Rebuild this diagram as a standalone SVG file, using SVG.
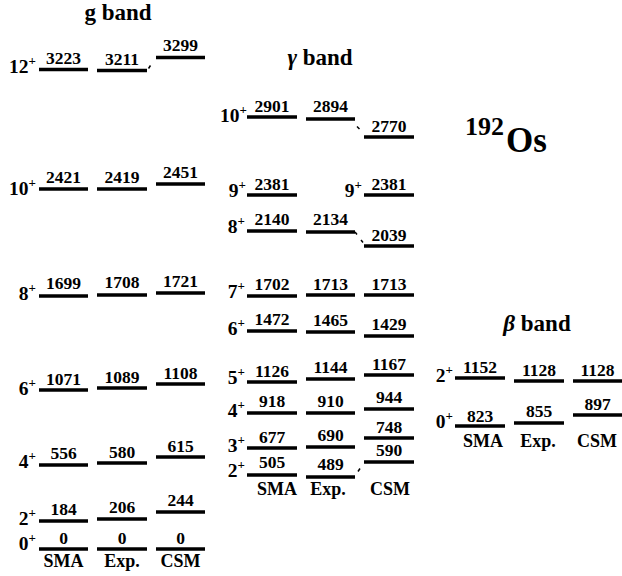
<svg xmlns="http://www.w3.org/2000/svg" width="622" height="576" viewBox="0 0 622 576">
<style>
text{font-family:"Liberation Serif","Times New Roman",serif;font-weight:bold;fill:#000}
.lv{stroke:#000;stroke-width:3.5;fill:none}
.num{font-size:17.5px;text-anchor:middle}
.spin{font-size:19.5px;text-anchor:end}
.sup{font-size:13px}
.hdr{font-size:23px;text-anchor:middle}
.col{font-size:18px;text-anchor:middle}
.tick{stroke:#000;stroke-width:1.5}
</style>
<rect width="622" height="576" fill="#fff"/>
<g id="titles">
<text class="hdr" x="118" y="20">g band</text>
<text class="hdr" x="320" y="65"><tspan font-style="italic">γ</tspan> band</text>
<text class="hdr" x="537" y="331"><tspan font-style="italic">β</tspan> band</text>
<text x="465" y="135" font-size="26">192</text>
<text x="506" y="152" font-size="35">Os</text>
</g>
<!-- g band -->
<g id="g12"><text class="spin" x="36" y="73">12<tspan class="sup" dy="-8">+</tspan></text>
<line class="lv" x1="39" y1="69.5" x2="88" y2="69.5"/><text class="num" x="63.5" y="64">3223</text>
<line class="lv" x1="97" y1="70.5" x2="147" y2="70.5"/><text class="num" x="122" y="65">3211</text>
<line class="lv" x1="156" y1="57.5" x2="205" y2="57.5"/><text class="num" x="180.5" y="51">3299</text></g>
<g id="g10"><text class="spin" x="36" y="195">10<tspan class="sup" dy="-8">+</tspan></text>
<line class="lv" x1="39" y1="189" x2="88" y2="189"/><text class="num" x="63.5" y="183">2421</text>
<line class="lv" x1="97" y1="189" x2="147" y2="189"/><text class="num" x="122" y="183">2419</text>
<line class="lv" x1="156" y1="184" x2="205" y2="184"/><text class="num" x="180.5" y="178">2451</text></g>
<g id="g8"><text class="spin" x="36" y="300">8<tspan class="sup" dy="-8">+</tspan></text>
<line class="lv" x1="39" y1="296" x2="88" y2="296"/><text class="num" x="63.5" y="289">1699</text>
<line class="lv" x1="97" y1="295" x2="147" y2="295"/><text class="num" x="122" y="288">1708</text>
<line class="lv" x1="156" y1="293" x2="205" y2="293"/><text class="num" x="180.5" y="287">1721</text></g>
<g id="g6"><text class="spin" x="36" y="395">6<tspan class="sup" dy="-8">+</tspan></text>
<line class="lv" x1="39" y1="390" x2="88" y2="390"/><text class="num" x="63.5" y="385">1071</text>
<line class="lv" x1="97" y1="388" x2="147" y2="388"/><text class="num" x="122" y="383">1089</text>
<line class="lv" x1="156" y1="384" x2="205" y2="384"/><text class="num" x="180.5" y="379">1108</text></g>
<g id="g4"><text class="spin" x="36" y="468">4<tspan class="sup" dy="-8">+</tspan></text>
<line class="lv" x1="39" y1="465" x2="88" y2="465"/><text class="num" x="63.5" y="459">556</text>
<line class="lv" x1="97" y1="463" x2="147" y2="463"/><text class="num" x="122" y="458">580</text>
<line class="lv" x1="156" y1="457" x2="205" y2="457"/><text class="num" x="180.5" y="452">615</text></g>
<g id="g2"><text class="spin" x="36" y="525">2<tspan class="sup" dy="-8">+</tspan></text>
<line class="lv" x1="39" y1="521" x2="88" y2="521"/><text class="num" x="63.5" y="515">184</text>
<line class="lv" x1="97" y1="519" x2="147" y2="519"/><text class="num" x="122" y="513">206</text>
<line class="lv" x1="156" y1="512" x2="205" y2="512"/><text class="num" x="180.5" y="506">244</text></g>
<g id="g0"><text class="spin" x="36" y="550">0<tspan class="sup" dy="-8">+</tspan></text>
<line class="lv" x1="39" y1="549" x2="88" y2="549"/><text class="num" x="63.5" y="544">0</text>
<line class="lv" x1="97" y1="549" x2="147" y2="549"/><text class="num" x="122" y="544">0</text>
<line class="lv" x1="156" y1="549" x2="205" y2="549"/><text class="num" x="180.5" y="544">0</text></g>
<g id="gcols"><text class="col" x="63.5" y="567">SMA</text><text class="col" x="122" y="567">Exp.</text><text class="col" x="180.5" y="567">CSM</text></g>
<!-- gamma band -->
<g id="y10"><text class="spin" x="247" y="122">10<tspan class="sup" dy="-8">+</tspan></text>
<line class="lv" x1="247" y1="117" x2="297" y2="117"/><text class="num" x="272" y="112">2901</text>
<line class="lv" x1="306" y1="119" x2="355" y2="119"/><text class="num" x="330.5" y="112">2894</text>
<line class="lv" x1="364" y1="137" x2="414" y2="137"/><text class="num" x="389" y="132">2770</text></g>
<g id="y9"><text class="spin" x="246" y="197">9<tspan class="sup" dy="-8">+</tspan></text>
<line class="lv" x1="247" y1="195" x2="297" y2="195"/><text class="num" x="272" y="190">2381</text>
<text class="spin" x="362" y="197">9<tspan class="sup" dy="-8">+</tspan></text>
<line class="lv" x1="364" y1="195" x2="414" y2="195"/><text class="num" x="389" y="190">2381</text></g>
<g id="y8"><text class="spin" x="245" y="233">8<tspan class="sup" dy="-8">+</tspan></text>
<line class="lv" x1="247" y1="231" x2="297" y2="231"/><text class="num" x="272" y="225">2140</text>
<line class="lv" x1="306" y1="232" x2="355" y2="232"/><text class="num" x="330.5" y="225">2134</text>
<line class="lv" x1="364" y1="246" x2="414" y2="246"/><text class="num" x="389" y="241">2039</text></g>
<g id="y7"><text class="spin" x="245" y="298">7<tspan class="sup" dy="-8">+</tspan></text>
<line class="lv" x1="247" y1="296" x2="297" y2="296"/><text class="num" x="272" y="290">1702</text>
<line class="lv" x1="306" y1="295" x2="355" y2="295"/><text class="num" x="330.5" y="290">1713</text>
<line class="lv" x1="364" y1="295" x2="414" y2="295"/><text class="num" x="389" y="290">1713</text></g>
<g id="y6"><text class="spin" x="245" y="335">6<tspan class="sup" dy="-8">+</tspan></text>
<line class="lv" x1="247" y1="331" x2="297" y2="331"/><text class="num" x="272" y="325">1472</text>
<line class="lv" x1="306" y1="332" x2="355" y2="332"/><text class="num" x="330.5" y="326">1465</text>
<line class="lv" x1="364" y1="336" x2="414" y2="336"/><text class="num" x="389" y="330">1429</text></g>
<g id="y5"><text class="spin" x="245" y="384">5<tspan class="sup" dy="-8">+</tspan></text>
<line class="lv" x1="247" y1="382" x2="297" y2="382"/><text class="num" x="272" y="377">1126</text>
<line class="lv" x1="306" y1="379" x2="355" y2="379"/><text class="num" x="330.5" y="373">1144</text>
<line class="lv" x1="364" y1="375" x2="414" y2="375"/><text class="num" x="389" y="370">1167</text></g>
<g id="y4"><text class="spin" x="245" y="417">4<tspan class="sup" dy="-8">+</tspan></text>
<line class="lv" x1="247" y1="413" x2="297" y2="413"/><text class="num" x="272" y="407">918</text>
<line class="lv" x1="306" y1="413" x2="355" y2="413"/><text class="num" x="330.5" y="407">910</text>
<line class="lv" x1="364" y1="409" x2="414" y2="409"/><text class="num" x="389" y="403">944</text></g>
<g id="y3"><text class="spin" x="245" y="452">3<tspan class="sup" dy="-8">+</tspan></text>
<line class="lv" x1="247" y1="448" x2="297" y2="448"/><text class="num" x="272" y="443">677</text>
<line class="lv" x1="306" y1="447" x2="355" y2="447"/><text class="num" x="330.5" y="441">690</text>
<line class="lv" x1="364" y1="438" x2="414" y2="438"/><text class="num" x="389" y="433">748</text></g>
<g id="y2"><text class="spin" x="245" y="477">2<tspan class="sup" dy="-8">+</tspan></text>
<line class="lv" x1="247" y1="475" x2="297" y2="475"/><text class="num" x="272" y="468">505</text>
<line class="lv" x1="306" y1="477" x2="355" y2="477"/><text class="num" x="330.5" y="470">489</text>
<line class="lv" x1="364" y1="462" x2="414" y2="462"/><text class="num" x="389" y="456">590</text></g>
<g id="ycols"><text class="col" x="277" y="495">SMA</text><text class="col" x="328" y="495">Exp.</text><text class="col" x="390" y="495">CSM</text></g>
<!-- beta band -->
<g id="b2"><text class="spin" x="453" y="382">2<tspan class="sup" dy="-8">+</tspan></text>
<line class="lv" x1="455" y1="378" x2="505" y2="378"/><text class="num" x="480" y="373">1152</text>
<line class="lv" x1="514" y1="381" x2="564" y2="381"/><text class="num" x="539" y="376">1128</text>
<line class="lv" x1="573" y1="381" x2="622" y2="381"/><text class="num" x="597.5" y="376">1128</text></g>
<g id="b0"><text class="spin" x="453" y="428">0<tspan class="sup" dy="-8">+</tspan></text>
<line class="lv" x1="455" y1="426" x2="505" y2="426"/><text class="num" x="480" y="422">823</text>
<line class="lv" x1="514" y1="423" x2="564" y2="423"/><text class="num" x="539" y="417">855</text>
<line class="lv" x1="573" y1="415" x2="622" y2="415"/><text class="num" x="597.5" y="410">897</text></g>
<g id="bcols"><text class="col" x="483" y="447">SMA</text><text class="col" x="538" y="447">Exp.</text><text class="col" x="597" y="447">CSM</text></g>
<g id="connectors">
<line class="tick" x1="148.5" y1="68.5" x2="150.5" y2="65.5"/>
<line class="tick" x1="357" y1="126.5" x2="359.5" y2="129"/>
<line class="tick" x1="355" y1="232" x2="357" y2="234.5"/>
<line class="tick" x1="361" y1="240" x2="363" y2="242.5"/>
<line class="tick" x1="358" y1="471.5" x2="360" y2="468.5"/>
</g>
</svg>
